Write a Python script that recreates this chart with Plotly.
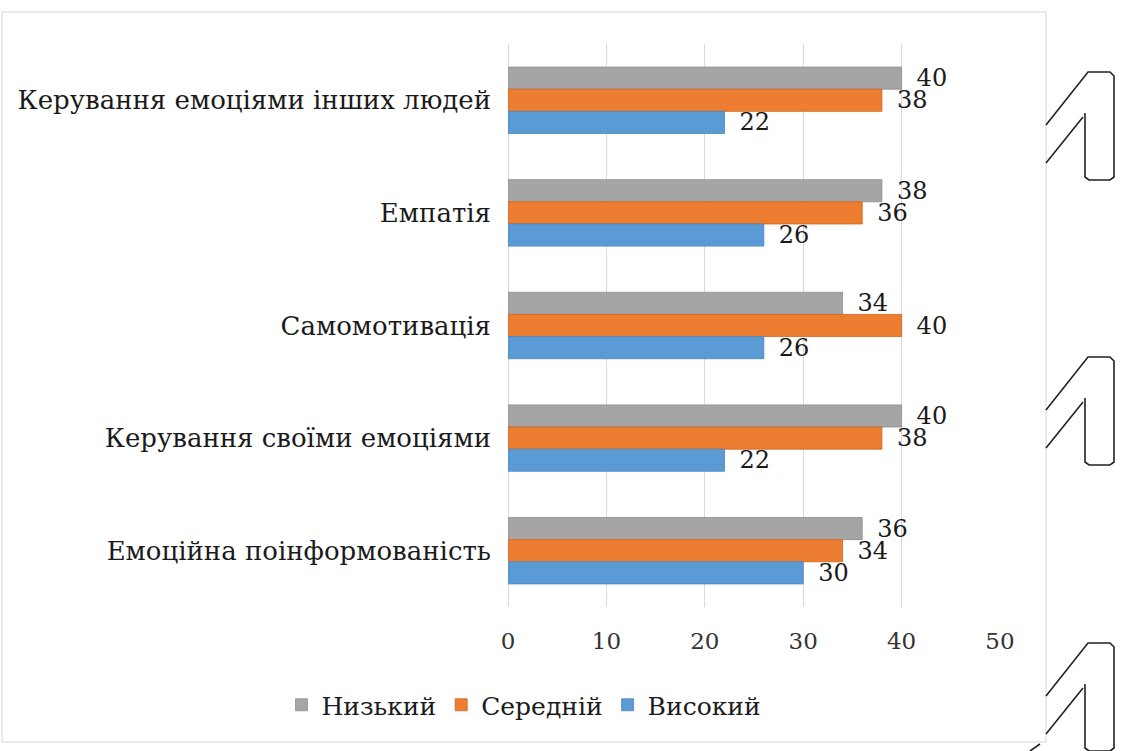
import plotly.graph_objects as go

# Emotional intelligence components and the share of each level
categories = [
    "Керування емоціями інших людей",
    "Емпатія",
    "Самомотивація",
    "Керування своїми емоціями",
    "Емоційна поінформованість",
]
low = [40, 38, 34, 40, 36]
medium = [38, 36, 40, 38, 34]
high = [22, 26, 26, 22, 30]

series_names = ["Низький", "Середній", "Високий"]
x_ticks = [0, 10, 20, 30, 40, 50]

FONT = "'DejaVu Serif', serif"
W, H = 1123, 751
L, R, T, B = 508, 123, 44, 144
PW, PH = W - L - R, H - T - B
GAP = "\u2002"  # keeps value labels clear of the bar ends


def px(x, y):
    """Convert page pixel position to paper coordinates."""
    return (x - L) / PW, (H - B - y) / PH


fig = go.Figure()
styles = [
    ("#A5A5A5", "#8E8E8E"),
    ("#ED7D31", "#D0651C"),
    ("#5B9BD5", "#4A86BE"),
]
for name, vals, (fill, edge) in zip(series_names, [low, medium, high], styles):
    fig.add_trace(go.Bar(
        y=categories, x=vals, name=name, orientation="h",
        marker=dict(color=fill, line=dict(color=edge, width=0.8)),
        text=[GAP + str(v) for v in vals], textposition="outside",
        textfont=dict(family=FONT, size=24, color="#1a1a1a"),
        constraintext="none", cliponaxis=False,
    ))

# Outer chart frame
shapes = []
x0, y0 = px(2, 12)
x1, y1 = px(1046, 742)
shapes.append(dict(type="rect", xref="paper", yref="paper", x0=x0, y0=y1, x1=x1, y1=y0,
                   line=dict(color="#E3E3E3", width=1.5), layer="below"))

# Outline "1" glyphs down the right margin
def glyph(dy, cut=None):
    pts_outer = [(1046, 125), (1088, 72), (1110, 72), (1114, 76), (1114, 177),
                 (1110, 180), (1089, 180), (1085, 177), (1085, 113)]
    pts_inner = [(1083, 117), (1046, 163)]
    out = []
    for pts in (pts_outer, pts_inner):
        path = ""
        for i, (x, y) in enumerate(pts):
            yy = y + dy
            if cut is not None and yy > cut:
                yy = cut
            xp, yp = px(x, yy)
            path += ("M" if i == 0 else "L") + f"{xp:.5f},{yp:.5f} "
        out.append(dict(type="path", xref="paper", yref="paper", path=path,
                        line=dict(color="#222222", width=1.6)))
    return out

shapes += glyph(0)
shapes += glyph(285)
shapes += glyph(571, cut=752)
ax0, ay0 = px(1030, 751)
ax1, ay1 = px(1040, 744)
shapes.append(dict(type="line", xref="paper", yref="paper", x0=ax0, y0=ay0, x1=ax1, y1=ay1,
                   line=dict(color="#222222", width=1.6)))

fig.update_layout(
    width=W, height=H,
    margin=dict(l=L, r=R, t=T, b=B, pad=0, autoexpand=False),
    paper_bgcolor="white", plot_bgcolor="white",
    barmode="group", bargap=0.41, bargroupgap=0,
    font=dict(family=FONT, size=24, color="#1a1a1a"),
    xaxis=dict(range=[0, 50], tickvals=x_ticks, ticktext=[str(t) for t in x_ticks],
               showgrid=True, gridcolor="#D9D9D9", gridwidth=1,
               zeroline=True, zerolinecolor="#D9D9D9", zerolinewidth=1,
               showline=False, ticks="", ticklabelstandoff=18, automargin=False,
               tickfont=dict(family=FONT, size=23, color="#333333")),
    yaxis=dict(autorange="reversed", showgrid=False, ticks="", showline=False,
               ticklabelstandoff=16, automargin=False,
               tickfont=dict(family=FONT, size=26, color="#1a1a1a")),
    legend=dict(orientation="h", xref="container", yref="container",
                x=524 / W, y=(H - 705) / H, xanchor="center", yanchor="middle",
                font=dict(family=FONT, size=25, color="#1a1a1a"),
                traceorder="normal", itemwidth=30),
    shapes=shapes,
)

fig.write_html("out.html")
